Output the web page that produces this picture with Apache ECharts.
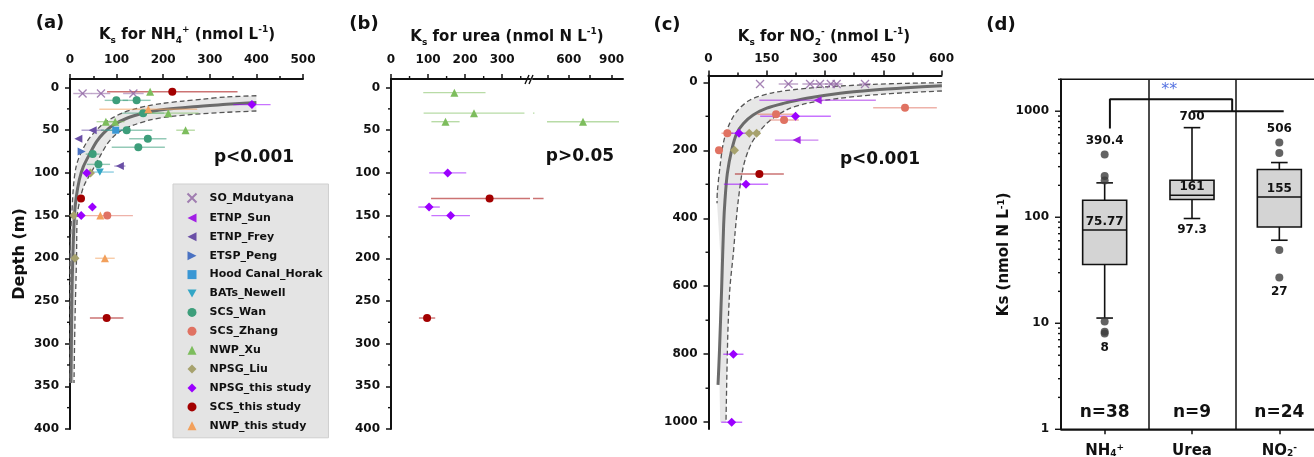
<!DOCTYPE html>
<html>
<head>
<meta charset="utf-8">
<script src="https://cdn.jsdelivr.net/npm/echarts@6/dist/echarts.min.js"></script>
<style>
  html, body { margin: 0; padding: 0; background: #fff; }
  #chart { width: 1314px; height: 457px; }
</style>
</head>
<body>
<div id="chart"></div>
<script>
// ---------- studies (legend order) ----------
const studyNames = ['SO_Mdutyana', 'ETNP_Sun', 'ETNP_Frey', 'ETSP_Peng', 'Hood Canal_Horak', 'BATs_Newell',
  'SCS_Wan', 'SCS_Zhang', 'NWP_Xu', 'NPSG_Liu', 'NPSG_this study', 'SCS_this study', 'NWP_this study'];
const studyColors = ['#8f63a3', '#a21ee6', '#6a4fa6', '#4a72c2', '#3a97d4', '#33a6c6',
  '#3d9e7b', '#e07262', '#7dbd5d', '#a7a26e', '#9b00ff', '#a30000', '#f2a05c'];
const crossPath = 'path://M0,0L10,10M0,10L10,0';
const leftTriangle = 'path://M10,0L10,10L0,5Z';
const rightTriangle = 'path://M0,0L10,5L0,10Z';
const downTriangle = 'path://M0,0L10,0L5,9Z';
const studySymbols = [crossPath, leftTriangle, leftTriangle, rightTriangle, 'rect', downTriangle,
  'circle', 'circle', 'triangle', 'diamond', 'diamond', 'circle', 'triangle'];

// ---------- (a) Ks for NH4+ : [study, Ks, depth, error] ----------
const ammoniumPoints = [
  ['SO_Mdutyana', 27, 7, 20], ['SO_Mdutyana', 66.5, 7, 20], ['SO_Mdutyana', 136, 7, 22],
  ['SCS_this study', 219.5, 5, 140], ['NWP_Xu', 172, 5, 0],
  ['SCS_Wan', 99.4, 15, 25], ['SCS_Wan', 143, 15, 30],
  ['NPSG_this study', 390.4, 20, 40], ['NWP_this study', 168, 25.5, 105],
  ['SCS_Wan', 157, 30, 45], ['NWP_Xu', 211, 30, 65],
  ['NWP_Xu', 77, 40, 20], ['NWP_Xu', 97, 40, 20],
  ['ETNP_Frey', 48.7, 50, 24], ['Hood Canal_Horak', 98, 50, 20], ['SCS_Wan', 121.6, 50, 55], ['NWP_Xu', 248, 50, 20],
  ['ETNP_Frey', 18, 60, 0], ['SCS_Wan', 167, 60, 40], ['SCS_Wan', 146.6, 70, 57],
  ['ETSP_Peng', 25, 75, 0], ['SCS_Wan', 48.7, 78, 15], ['SCS_Wan', 61, 90, 25],
  ['ETNP_Frey', 107, 92, 12], ['BATs_Newell', 64, 99, 30],
  ['NPSG_Liu', 44, 100, 0], ['NPSG_this study', 36, 100, 0],
  ['SCS_this study', 23.6, 130, 0], ['NPSG_this study', 48, 140, 0],
  ['NPSG_Liu', 8, 150, 0], ['NPSG_this study', 24, 150, 0], ['NWP_this study', 65, 150, 0], ['SCS_Zhang', 80, 150, 55],
  ['NPSG_Liu', 10.7, 200, 0], ['NWP_this study', 75, 200, 21],
  ['SCS_this study', 78.7, 270, 36]
];
const ammoniumFit = [[400, 17.4], [336, 19.7], [265, 22.4], [193, 26.3], [157, 30.2], [122, 36], [93, 44],
  [71.5, 53.7], [57, 63.4], [43, 77], [28.6, 92.7], [20, 108], [13, 130], [9.5, 150], [6, 200], [4, 250], [3, 300], [2, 346]];
const ammoniumInner = [[400, 9.6], [336, 11], [286, 13.5], [243, 15.8], [200, 18.5], [164, 21.7], [136, 25.5],
  [114, 29.5], [93, 35], [68, 44], [37, 63], [13, 93], [3.6, 150], [0, 200], [0, 346]];
const ammoniumOuter = [[400, 27.5], [336, 29], [265, 31.4], [215, 34], [172, 38], [136, 44], [111, 50], [93, 57.6],
  [78.7, 67], [64, 81], [48, 97], [30, 115], [22, 130], [15.7, 150], [14, 200], [10.7, 272], [8.6, 346]];

// ---------- (b) Ks for urea ----------
const ureaPoints = [
  ['NWP_Xu', 171, 6, 84], ['NWP_Xu', 224, 30, 136], ['NWP_Xu', 147, 40, 38], ['NWP_Xu', 700, 40, 252],
  ['NPSG_this study', 153, 100, 50], ['SCS_this study', 266, 130, 158],
  ['NPSG_this study', 102.7, 140, 29], ['NPSG_this study', 161, 150, 52],
  ['SCS_this study', 97.3, 270, 22]
];

// ---------- (c) Ks for NO2- ----------
const nitritePoints = [
  ['SO_Mdutyana', 132.7, 5, 0], ['SO_Mdutyana', 205.8, 5, 25], ['SO_Mdutyana', 261.6, 5, 20], ['SO_Mdutyana', 287, 5, 20],
  ['SO_Mdutyana', 315, 5, 15], ['SO_Mdutyana', 330, 5, 15], ['SO_Mdutyana', 403, 5, 15],
  ['ETNP_Sun', 281, 53, 150], ['SCS_Zhang', 506, 75, 82], ['SCS_Zhang', 174, 94, 48],
  ['NPSG_this study', 224, 100, 91], ['SCS_Zhang', 194.6, 111, 38],
  ['SCS_Zhang', 48.5, 150, 15], ['NPSG_this study', 78.6, 150, 28], ['NPSG_Liu', 105, 150, 0], ['NPSG_Liu', 124, 150, 0],
  ['ETNP_Sun', 227, 170, 56], ['SCS_Zhang', 27, 200, 0], ['NPSG_Liu', 67, 200, 0],
  ['SCS_this study', 131, 270, 63], ['NPSG_this study', 96.6, 300, 57],
  ['NPSG_this study', 64, 800, 26], ['NPSG_this study', 59.7, 1000, 27]
];
const nitriteFit = [[601, 10], [511, 15.8], [425, 22.6], [339, 32], [253, 47], [193, 62], [150, 76], [115, 96],
  [90, 121], [72.7, 150], [59.8, 199], [48.5, 268], [42.5, 346], [39, 420], [34, 601], [28, 797], [24.5, 890]];
const nitriteInner = [[601, 1], [511, 3], [425, 6], [339, 11], [253, 17.7], [167, 30.5], [107, 52], [72.6, 86],
  [51, 130], [38.2, 179], [29.6, 248], [22.8, 322], [22, 356], [30, 500], [30, 601], [27, 797], [30, 1000]];
const nitriteOuter = [[601, 25.6], [511, 30.5], [425, 37], [339, 47], [253, 62], [201, 81], [150, 121], [111, 179],
  [89.7, 248], [76.8, 346], [68.3, 444], [64, 503], [55.4, 601], [51, 699], [48.5, 797], [45, 1000]];

// ---------- (d) box plot summary ----------
const boxCategories = ['NH{sub|4}{sup|+}', 'Urea', 'NO{sub|2}{sup|-}'];
const boxStats = [           // [lower whisker, Q1, median, Q3, upper whisker]
  [11.2, 35.8, 75.77, 144.5, 211],
  [97.3, 147, 161, 223, 700],
  [60.7, 81, 155, 282, 328]
];
const boxOutliers = [[390.4, 245, 222, 10.4, 8.3, 8], [], [506, 404, 49, 27]];
const boxCounts = [38, 9, 24];
const bracketPath = [[0.56, 687], [0.56, 1300], [1.96, 1300], [1.96, 1000]];
const bracketBase = [[1.49, 1000], [2.55, 1000]];
const bracketMark = [[1.24, 1600]];

// ---------- axis ticks ----------
const depthLabelsShallow = [0, 50, 100, 150, 200, 250, 300, 350, 400];
const depthMinorShallow = [25, 75, 125, 175, 225, 275, 325, 375];
const depthLabelsDeep = [0, 200, 400, 600, 800, 1000];
const depthMinorDeep = [100, 300, 500, 700, 900];
const ureaLowLabels = [0, 100, 200, 300];
const ureaLowMinor = [50, 150, 250, 350];
const ureaHighLabels = [600, 900];
const ureaHighTicks = [450, 600, 750, 900];
const logDecades = [1, 10, 100, 1000];
const logMinor = [];
logDecades.forEach(d => { for (let k = 2; k <= 9; k++) if (d * k <= 2000) logMinor.push(d * k); });

// ---------- styling helpers ----------
const FONT = 'DejaVu Sans';
const INK = '#111';
const plainNumber = v => String(Math.round(v * 1000) / 1000);
const boldText = (size) => ({ fontFamily: FONT, fontWeight: 'bold', fontSize: size, color: INK });
const richScripts = (size) => ({
  sub: { fontFamily: FONT, fontWeight: 'bold', fontSize: Math.round(size * 0.62), lineHeight: Math.round(size * 0.7), verticalAlign: 'bottom', color: INK, fill: INK },
  sup: { fontFamily: FONT, fontWeight: 'bold', fontSize: Math.round(size * 0.6), lineHeight: Math.round(size * 0.7), verticalAlign: 'top', color: INK, fill: INK }
});

function topAxis(gridIndex, min, max, interval, extra) {
  return Object.assign({
    type: 'value', gridIndex, position: 'top', min, max, interval,
    axisLine: { show: true, onZero: false, lineStyle: { color: INK, width: 2 } },
    axisTick: { show: true, length: 5, lineStyle: { color: INK, width: 1.5 } },
    minorTick: { show: true, splitNumber: 2, length: 3, lineStyle: { color: INK, width: 1.5 } },
    axisLabel: Object.assign({ margin: 13, formatter: plainNumber }, boldText(12)),
    splitLine: { show: false }, minorSplitLine: { show: false }
  }, extra || {});
}
function depthAxis(gridIndex, min, max, labels) {
  return {
    type: 'value', gridIndex, position: 'left', min, max, inverse: true,
    axisLine: { show: true, onZero: false, lineStyle: { color: INK, width: 2 } },
    axisTick: { show: true, customValues: labels, length: 5, lineStyle: { color: INK, width: 1.5 } },
    axisLabel: Object.assign({ customValues: labels, margin: 11, formatter: plainNumber }, boldText(12)),
    splitLine: { show: false }
  };
}

const grids = [
  { left: 70, top: 79, width: 233, height: 350 },     // (a)
  { left: 391, top: 79, width: 139, height: 350 },    // (b) low range
  { left: 533, top: 79, width: 90, height: 350 },     // (b) high range
  { left: 708.5, top: 75.5, width: 233, height: 353.5 }, // (c)
  { left: 1061, top: 79.3, width: 262, height: 350, show: true, borderColor: INK, borderWidth: 1.5, backgroundColor: 'transparent' } // (d)
].map(g => Object.assign({ outerBoundsMode: 'none', containLabel: false }, g));

const xAxes = [
  topAxis(0, 0, 500, 100),
  topAxis(1, 0, 375, null, {
    interval: undefined, minorTick: { show: false },
    axisTick: { show: true, customValues: ureaLowLabels, length: 5, lineStyle: { color: INK, width: 1.5 } },
    axisLabel: Object.assign({ customValues: ureaLowLabels, margin: 13, formatter: plainNumber }, boldText(12))
  }),
  topAxis(2, 350, 980, null, {
    interval: undefined, minorTick: { show: false },
    axisTick: { show: true, customValues: ureaHighTicks, length: 4, lineStyle: { color: INK, width: 1.5 } },
    axisLabel: Object.assign({ customValues: ureaHighLabels, margin: 13, formatter: plainNumber }, boldText(12))
  }),
  topAxis(3, 0, 600, 150, { axisLabel: Object.assign({ margin: 11, formatter: plainNumber }, boldText(12)) }),
  {
    type: 'category', gridIndex: 4, position: 'bottom', data: boxCategories, boundaryGap: true,
    axisLine: { show: true, onZero: false, lineStyle: { color: INK, width: 1.5 } },
    axisTick: { show: true, alignWithLabel: true, length: 5, lineStyle: { color: INK, width: 1.5 } },
    axisLabel: Object.assign({ margin: 14, interval: 0, rich: richScripts(15) }, boldText(15)),
    splitLine: { show: true, interval: 0, lineStyle: { color: INK, width: 1.5 } }
  },
  { type: 'value', gridIndex: 4, min: 0, max: 3, show: false, position: 'top' }
];

const yAxes = [
  depthAxis(0, -10, 400, depthLabelsShallow),
  depthAxis(1, -10, 400, depthLabelsShallow),
  { type: 'value', gridIndex: 2, min: -10, max: 400, inverse: true, show: false },
  depthAxis(3, -20, 1020, depthLabelsDeep),
  {
    type: 'log', logBase: 10, gridIndex: 4, position: 'left', min: 1, max: 2000,
    axisLine: { show: true, onZero: false, lineStyle: { color: INK, width: 1.5 } },
    axisTick: { show: false },
    axisLabel: Object.assign({
      margin: 12, showMaxLabel: false,
      formatter: v => { const l = Math.log10(v); return Math.abs(l - Math.round(l)) < 1e-6 ? String(Math.round(v)) : ''; }
    }, boldText(12)),
    splitLine: { show: false },
    name: 'Ks (nmol N L{sup|-1})', nameLocation: 'middle', nameGap: 44, nameRotate: 90,
    nameTextStyle: Object.assign({ rich: richScripts(15) }, boldText(15))
  }
];
Object.assign(yAxes[0], { name: 'Depth (m)', nameLocation: 'middle', nameGap: 42, nameRotate: 90, nameTextStyle: boldText(16) });

// ---------- series builders ----------
const series = [];

function errorBarRenderer(color) {
  return (params, api) => {
    const x = api.value(0), y = api.value(1), e = api.value(2);
    const a = api.coord([x - e, y]);
    const b = api.coord([x + e, y]);
    return { type: 'line', shape: { x1: a[0], y1: a[1], x2: b[0], y2: b[1] },
      style: { stroke: color, lineWidth: 1.4, opacity: 0.55 } };
  };
}

function addStudies(points, xAxisIndex, yAxisIndex, keepPoint) {
  studyNames.forEach((name, i) => {
    const rows = points.filter(r => r[0] === name).map(r => [r[1], r[2], r[3]]);
    if (!rows.length) return;
    const bars = rows.filter(r => r[2] > 0);
    if (bars.length) {
      series.push({ type: 'custom', name: name + ' error', xAxisIndex, yAxisIndex, clip: true, silent: true, z: 4,
        data: bars, encode: { x: 0, y: 1 }, renderItem: errorBarRenderer(studyColors[i]) });
    }
    const marks = rows.filter(r => keepPoint(r[0])).map(r => [r[0], r[1]]);
    if (!marks.length) return;
    const sym = studySymbols[i];
    const isCross = sym === crossPath;
    series.push({
      type: 'scatter', name, xAxisIndex, yAxisIndex, z: 6, silent: true,
      data: marks, symbol: sym, symbolKeepAspect: true,
      symbolSize: sym === 'diamond' ? 9 : (sym === 'rect' ? 7 : 8),
      itemStyle: isCross ? { color: 'none', borderColor: studyColors[i], borderWidth: 1.3 } : { color: studyColors[i], opacity: 1 },
      emphasis: { disabled: true }
    });
  });
}

function bandSeries(inner, outer, xAxisIndex, yAxisIndex) {
  return {
    type: 'custom', xAxisIndex, yAxisIndex, clip: true, silent: true, z: 1,
    data: [[0, 0]],
    renderItem: (params, api) => {
      const pts = inner.concat(outer.slice().reverse()).map(p => api.coord(p));
      return { type: 'polygon', shape: { points: pts }, style: { fill: '#e3e3e3', opacity: 0.85 } };
    }
  };
}
function curveSeries(data, xAxisIndex, yAxisIndex, dashed) {
  return {
    type: 'line', xAxisIndex, yAxisIndex, data, showSymbol: false, symbol: 'none', smooth: 0.3, silent: true,
    z: dashed ? 2 : 3,
    lineStyle: dashed ? { color: '#555', width: 1.3, type: [5, 3] } : { color: '#6b6b6b', width: 3 },
    emphasis: { disabled: true }
  };
}
// short tick marks on an axis edge; rows are [x, y] points lying on that edge
function tickMarks(xAxisIndex, yAxisIndex, rows, side, majorLen, minorLen) {
  return {
    type: 'custom', xAxisIndex, yAxisIndex, clip: false, silent: true, z: 5,
    data: rows,
    renderItem: (params, api) => {
      const p = api.coord([api.value(0), api.value(1)]);
      const len = (api.value(2) ? majorLen : minorLen);
      const shape = side === 'left'
        ? { x1: p[0] - len, y1: p[1], x2: p[0], y2: p[1] }
        : { x1: p[0], y1: p[1] - len, x2: p[0], y2: p[1] };
      return { type: 'line', shape, style: { stroke: INK, lineWidth: 1.4 } };
    }
  };
}

// (a)
series.push(bandSeries(ammoniumInner, ammoniumOuter, 0, 0));
series.push(curveSeries(ammoniumInner, 0, 0, true));
series.push(curveSeries(ammoniumOuter, 0, 0, true));
series.push(curveSeries(ammoniumFit, 0, 0, false));
addStudies(ammoniumPoints, 0, 0, () => true);
series.push(tickMarks(0, 0, depthMinorShallow.map(v => [0, v, 0]), 'left', 5, 3));
// (b) split across the broken axis
addStudies(ureaPoints, 1, 1, v => v <= 375);
addStudies(ureaPoints, 2, 2, v => v > 375);
series.push(tickMarks(1, 1, depthMinorShallow.map(v => [0, v, 0]), 'left', 5, 3));
series.push(tickMarks(1, 1, ureaLowMinor.map(v => [v, -10, 0]), 'top', 5, 3));
// (c)
series.push(bandSeries(nitriteInner, nitriteOuter, 3, 3));
series.push(curveSeries(nitriteInner.filter(p => p[1] <= 356), 3, 3, true));
series.push(curveSeries(nitriteOuter, 3, 3, true));
series.push(curveSeries(nitriteFit, 3, 3, false));
addStudies(nitritePoints, 3, 3, () => true);
series.push(tickMarks(3, 3, depthMinorDeep.map(v => [0, v, 0]), 'left', 5, 3));

// (d) boxes with value labels
series.push({
  type: 'custom', xAxisIndex: 4, yAxisIndex: 4, clip: false, silent: true, z: 5,
  data: boxStats.map((s, i) => [i].concat(s)),
  renderItem: (params, api) => {
    const i = api.value(0);
    const s = [1, 2, 3, 4, 5].map(k => api.value(k));
    const c = v => api.coord([i, v]);
    const band = api.coord([i + 1, s[2]])[0] - api.coord([i, s[2]])[0];
    const x = c(s[2])[0];
    const half = band * 0.252, cap = band * 0.095;
    const yLow = c(s[0])[1], yQ1 = c(s[1])[1], yMed = c(s[2])[1], yQ3 = c(s[3])[1], yHigh = c(s[4])[1];
    const stroke = { stroke: INK, lineWidth: 1.6 };
    const outl = boxOutliers[params.dataIndex];
    const topVal = Math.max.apply(null, outl.concat([s[4]]));
    const botVal = Math.min.apply(null, outl.concat([s[0]]));
    const topY = c(topVal)[1], botY = c(botVal)[1];
    const topGap = topVal > s[4] ? 8 : 5, botGap = botVal < s[0] ? 8 : 5;
    const txt = (text, y, va, size) => ({ type: 'text', x, y, style: { text, fontFamily: FONT, fontWeight: 'bold', fontSize: size, fill: INK, align: 'center', verticalAlign: va } });
    return {
      type: 'group', children: [
        { type: 'line', shape: { x1: x, y1: yLow, x2: x, y2: yQ1 }, style: stroke },
        { type: 'line', shape: { x1: x, y1: yQ3, x2: x, y2: yHigh }, style: stroke },
        { type: 'line', shape: { x1: x - cap, y1: yLow, x2: x + cap, y2: yLow }, style: stroke },
        { type: 'line', shape: { x1: x - cap, y1: yHigh, x2: x + cap, y2: yHigh }, style: stroke },
        { type: 'rect', shape: { x: x - half, y: yQ3, width: half * 2, height: yQ1 - yQ3 }, style: { fill: '#d4d4d4', stroke: INK, lineWidth: 1.6 } },
        { type: 'line', shape: { x1: x - half, y1: yMed, x2: x + half, y2: yMed }, style: stroke },
        txt(String(topVal), topY - topGap, 'bottom', 12),
        txt(String(s[2]), yMed - 8.5, 'middle', 12),
        txt(String(botVal), botY + botGap, 'top', 12),
        txt('n=' + boxCounts[params.dataIndex], c(1)[1] - 16.5, 'middle', 17)
      ]
    };
  }
});
series.push({
  type: 'scatter', xAxisIndex: 4, yAxisIndex: 4, silent: true, z: 6, symbol: 'circle', symbolSize: 8,
  itemStyle: { color: '#3c3c3c' },
  data: boxOutliers.flatMap((vals, i) => vals.map(v => [i, v]))
});
// log-axis ticks (decades and 2..9 minors)
series.push(tickMarks(5, 4, logDecades.map(v => [0, v, 1]).concat(logMinor.map(v => [0, v, 0])), 'left', 6, 3));
// significance bracket
[bracketPath, bracketBase].forEach(d => series.push({
  type: 'line', xAxisIndex: 5, yAxisIndex: 4, data: d, showSymbol: false, symbol: 'none', silent: true, z: 5,
  lineStyle: { color: INK, width: 2 }, emphasis: { disabled: true }
}));
series.push({
  type: 'scatter', xAxisIndex: 5, yAxisIndex: 4, data: bracketMark, symbolSize: 0, silent: true, z: 6,
  label: { show: true, position: 'inside', formatter: '**', fontFamily: FONT, fontSize: 16, color: '#2b4fd8' }
});

// ---------- text decorations ----------
const titleText = (text, x, y) => ({
  type: 'text', x, y, z: 10,
  style: { text, align: 'center', verticalAlign: 'middle', fontFamily: FONT, fontWeight: 'bold', fontSize: 15, lineHeight: 20, fill: INK, rich: richScripts(15) }
});
const plainText = (text, x, y, size) => ({
  type: 'text', x, y, z: 10,
  style: { text, align: 'center', verticalAlign: 'middle', fontFamily: FONT, fontWeight: 'bold', fontSize: size, fill: INK }
});
const graphics = [
  plainText('(a)', 50, 23, 18), plainText('(b)', 364, 24, 18), plainText('(c)', 667, 25, 18), plainText('(d)', 1001, 25, 18),
  titleText('K{sub|s} for NH{sub|4}{sup|+} (nmol L{sup|-1})', 187, 35),
  titleText('K{sub|s} for urea (nmol N L{sup|-1})', 507, 37),
  titleText('K{sub|s} for NO{sub|2}{sup|-} (nmol L{sup|-1})', 824, 37),
  plainText('p<0.001', 254, 158, 17), plainText('p>0.05', 580, 157, 17), plainText('p<0.001', 880, 160, 17),
  { type: 'line', z: 10, shape: { x1: 525, y1: 84, x2: 529, y2: 75 }, style: { stroke: INK, lineWidth: 1.4 } },
  { type: 'line', z: 10, shape: { x1: 529, y1: 84, x2: 533, y2: 75 }, style: { stroke: INK, lineWidth: 1.4 } }
];

const option = {
  animation: false,
  backgroundColor: '#fff',
  grid: grids,
  xAxis: xAxes,
  yAxis: yAxes,
  legend: {
    show: true, data: studyNames, orient: 'vertical', left: 173, top: 184,
    backgroundColor: '#e4e4e4', borderColor: '#cfcfcf', borderWidth: 1,
    padding: [7, 6, 6, 12], itemGap: 6.9, itemWidth: 9, itemHeight: 9, selectedMode: false,
    textStyle: { fontFamily: FONT, fontWeight: 'bold', fontSize: 11, lineHeight: 12, color: INK, padding: [0, 0, 0, 8] }
  },
  graphic: { elements: graphics },
  series
};

const chart = echarts.init(document.getElementById('chart'), null, { renderer: 'canvas' });
chart.setOption(option);
</script>
</body>
</html>
